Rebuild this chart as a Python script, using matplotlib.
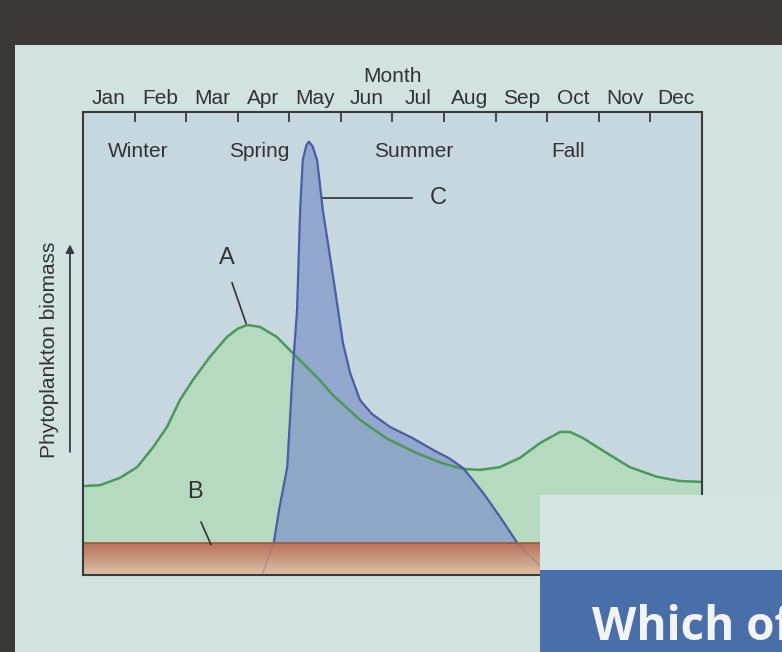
import matplotlib
matplotlib.use("Agg")
import matplotlib.pyplot as plt
from matplotlib.patches import Rectangle
from matplotlib.colors import LinearSegmentedColormap
import numpy as np

plt.rcParams['font.family'] = ['Liberation Sans', 'DejaVu Sans']

# month names on the top axis
months = ['Jan', 'Feb', 'Mar', 'Apr', 'May', 'Jun', 'Jul', 'Aug', 'Sep', 'Oct', 'Nov', 'Dec']
seasons = ['Winter', 'Spring', 'Summer', 'Fall']
season_x = [1.07, 3.41, 6.41, 9.40]

# curve A (green) - month position vs biomass (arbitrary units, 0-100)
green_x = [0.0, 0.33, 0.72, 1.05, 1.36, 1.63, 1.88, 2.13, 2.46, 2.79, 3.0, 3.18, 3.43, 3.76,
           4.07, 4.59, 4.85, 5.37, 5.9, 6.48, 6.95, 7.37, 7.70, 8.08, 8.47, 8.86, 9.25, 9.44,
           9.69, 10.16, 10.60, 11.13, 11.57, 12.0]
green_y = [19.2, 19.4, 21.0, 23.3, 27.6, 32.0, 37.8, 42.1, 47.1, 51.4, 53.2, 54.0, 53.6, 51.4,
           47.9, 42.1, 38.8, 33.5, 29.4, 26.3, 24.2, 22.9, 22.7, 23.3, 25.3, 28.5, 30.9, 30.9,
           29.6, 26.3, 23.3, 21.2, 20.3, 20.1]

# curve C (blue) spring bloom
blue_x = [3.70, 3.80, 3.96, 4.07, 4.15, 4.21, 4.26, 4.33, 4.38, 4.45, 4.54, 4.65, 4.85, 5.04,
          5.18, 5.37, 5.6, 5.95, 6.4, 6.79, 7.1, 7.37, 7.76, 8.1, 8.41]
blue_y = [7.0, 14.0, 23.3, 44.9, 57.2, 78.8, 89.6, 92.8, 93.6, 92.6, 89.6, 78.8, 64.4, 50.1,
          43.6, 37.8, 34.8, 32.0, 29.5, 27.0, 25.2, 23.1, 17.7, 12.3, 7.1]

# B: the bottom band
band_top = 6.9

fig = plt.figure(figsize=(7.82, 6.52), dpi=100, facecolor='#3a3938')

# slide background
fig.add_artist(Rectangle((0.019, 0.0), 0.981, 0.931, transform=fig.transFigure,
                         facecolor='#d1e2e1', edgecolor='none', zorder=-5))

ax = fig.add_axes([0.1061, 0.1181, 0.7916, 0.7101])
ax.set_facecolor('#c7d7df')
ax.set_xlim(0, 12)
ax.set_ylim(0, 100)

# fills and outlines
ax.fill_between(green_x, 0, green_y, color='#b5dac0', zorder=1)
ax.fill_between(blue_x, band_top, blue_y, color='#8094c8', alpha=0.72, linewidth=0, zorder=2)
ax.plot(green_x, green_y, color='#4b985b', lw=1.8, solid_joinstyle='round', zorder=3)
ax.plot(blue_x, blue_y, color='#4a5ea6', lw=1.6, solid_joinstyle='round', zorder=4)

# brown band with vertical gradient
grad = np.linspace(0, 1, 50).reshape(-1, 1)
band_cmap = LinearSegmentedColormap.from_list('band', ['#b9735b', '#dcc0a8'])
ax.imshow(grad, extent=(0, 12, 0, band_top), aspect='auto', cmap=band_cmap,
          origin='upper', zorder=5)
ax.plot([0, 12], [band_top, band_top], color='#a4523d', lw=1.2, zorder=6)
ax.plot([blue_x[0], blue_x[0] - 0.23], [band_top, 0], color='#7a6a80', lw=0.8, alpha=0.5, zorder=6)
ax.plot([blue_x[-1], blue_x[-1] + 0.45], [band_top, 2], color='#7a6a80', lw=0.8, alpha=0.5, zorder=6)

for s in ax.spines.values():
    s.set_color('#3a3a3a')
    s.set_linewidth(1.5)
    s.set_zorder(7)

# month ticks on top
ax.xaxis.tick_top()
ax.set_xticks(range(1, 12))
ax.set_xticklabels([])
ax.set_xticks(np.arange(12) + 0.5, minor=True)
ax.set_xticklabels(months, minor=True, fontsize=15, color='#333333')
ax.tick_params(axis='x', which='major', direction='in', length=7, width=1.3, color='#3a3a3a')
ax.tick_params(axis='x', which='minor', length=0, pad=3)
ax.xaxis.set_label_position('top')
ax.set_xlabel('Month', fontsize=15, color='#333333', labelpad=5)
ax.set_yticks([])

for name, sx in zip(seasons, season_x):
    ax.text(sx, 91.5, name, ha='center', va='center', fontsize=15, color='#333333', zorder=8)

# y axis label with arrow
ax.annotate('', xy=(-0.021, 0.72), xytext=(-0.021, 0.26), xycoords='axes fraction',
            arrowprops=dict(arrowstyle='-|>', color='#3a3a4a', lw=1.3, mutation_scale=12),
            annotation_clip=False)
ax.text(-0.054, 0.486, 'Phytoplankton biomass', transform=ax.transAxes, rotation=90,
        ha='center', va='center', fontsize=15, color='#333333')

# curve labels
ax.text(2.79, 68.5, 'A', ha='center', va='center', fontsize=17, color='#333333')
ax.plot([2.89, 3.16], [63.1, 54.4], color='#333333', lw=1.2, zorder=8)
ax.text(6.88, 81.4, 'C', ha='center', va='center', fontsize=17, color='#333333')
ax.plot([4.65, 6.38], [81.4, 81.4], color='#333333', lw=1.2, zorder=8)
ax.text(2.17, 17.9, 'B', ha='center', va='center', fontsize=17, color='#333333')
ax.plot([2.29, 2.48], [11.4, 6.6], color='#333333', lw=1.2, zorder=8)

# slide boxes overlapping the figure
fig.add_artist(Rectangle((0.6905, 0.1258), 0.3095, 0.115, transform=fig.transFigure,
                         facecolor='#d4e4e3', edgecolor='none', zorder=10))
fig.add_artist(Rectangle((0.6905, 0.0), 0.3095, 0.1258, transform=fig.transFigure,
                         facecolor='#4a6ea8', edgecolor='none', zorder=10))
fig.text(0.757, 0.018, 'Which of', fontsize=33, fontweight='bold', color='#f2f4f4',
         family=['Open Sans', 'DejaVu Sans'], zorder=11)

fig.savefig('out.png', dpi=100, facecolor=fig.get_facecolor())
